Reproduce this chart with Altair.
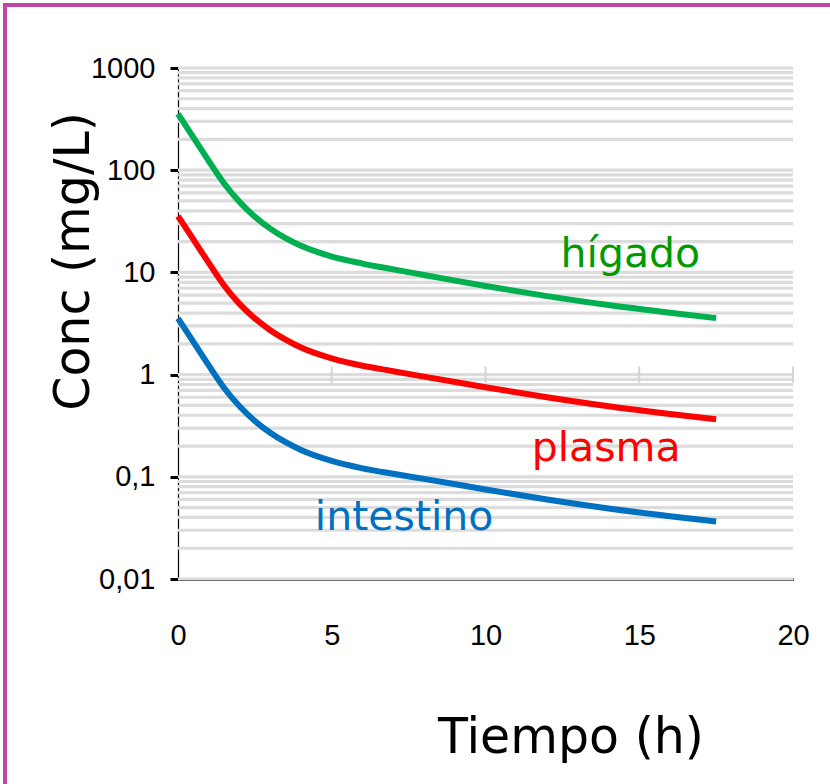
import altair as alt
import pandas as pd

# ---- data ----
time_h = [0, 0.5, 1, 1.5, 2, 2.5, 3, 3.5, 4, 5, 6, 7, 8, 10, 12, 14, 16, 17.5]
higado = [355, 209, 123, 74.1, 49.0, 35.1, 26.8, 21.6, 18.2, 14.3, 12.2, 10.7, 9.44, 7.35, 5.86, 4.79, 4.03, 3.57]
plasma = [35.5, 21.0, 12.4, 7.45, 4.92, 3.55, 2.72, 2.2, 1.84, 1.44, 1.22, 1.08, 0.955, 0.752, 0.60, 0.49, 0.412, 0.366]
intestino = [3.55, 2.09, 1.23, 0.74, 0.49, 0.352, 0.27, 0.218, 0.183, 0.143, 0.121, 0.107, 0.0955, 0.0752, 0.060, 0.049, 0.0412, 0.0366]

series_names = ["hígado", "plasma", "intestino"]
line_colors = ["#00B050", "#FF0000", "#0070C0"]
text_colors = ["#009A00", "#FF0000", "#0070C0"]
label_t = [12.44, 11.5, 4.45]
label_c = [11.2, 0.143, 0.0302]

y_ticks = [0.01, 0.1, 1, 10, 100, 1000]
y_tick_labels = ["0,01", "0,1", "1", "10", "100", "1000"]
x_ticks = [0, 5, 10, 15, 20]
grid_values = [m * 10 ** k for k in range(-2, 3) for m in range(1, 10)] + [1000]
cross_ticks_x = [5, 10, 15, 20]

# ---- tables ----
rows = []
for name, vals in zip(series_names, [higado, plasma, intestino]):
    for t, v in zip(time_h, vals):
        rows.append({"t": t, "c": v, "serie": name})
df = pd.DataFrame(rows)
df_lab = pd.DataFrame({"t": label_t, "c": label_c, "serie": series_names})
df_grid = pd.DataFrame({"g": grid_values})
df_cross = pd.DataFrame({"t": cross_ticks_x})

label_expr = " : ".join(
    f"datum.value == {v} ? '{l}'" for v, l in zip(y_ticks[:-1], y_tick_labels[:-1])
) + f" : '{y_tick_labels[-1]}'"

x_scale = alt.Scale(domain=[0, 20], nice=False)
y_scale = alt.Scale(type="log", domain=[0.01, 1000], nice=False)

TICK_FONT = "Liberation Sans Narrow, Liberation Sans, Arial, sans-serif"
TITLE_FONT = "DejaVu Sans, Verdana, sans-serif"

grid = alt.Chart(df_grid).mark_rule(color="#DCDCDC", strokeWidth=3.2).encode(
    y=alt.Y("g:Q", scale=y_scale)
)

cross = alt.Chart(df_cross).mark_rule(color="#D4D4D4", strokeWidth=2).encode(
    x=alt.X("t:Q", scale=x_scale),
    y=alt.datum(1.2),
    y2=alt.datum(0.83),
)

lines = alt.Chart(df).mark_line(strokeWidth=6, interpolate="monotone", clip=False).encode(
    x=alt.X(
        "t:Q",
        scale=x_scale,
        axis=alt.Axis(
            values=x_ticks,
            format="d",
            grid=False,
            ticks=False,
            tickSize=0,
            domainColor="black",
            domainWidth=3,
            labelFont=TICK_FONT,
            labelFontSize=29,
            labelColor="black",
            labelPadding=56,
            labelBaseline="middle",
            labelFlush=False,
            title="Tiempo (h)",
            titleFont=TITLE_FONT,
            titleFontSize=49,
            titleFontWeight="normal",
            titleColor="black",
            titleX=392.5,
            titleY=173,
            titleAlign="center",
            titleBaseline="alphabetic",
        ),
    ),
    y=alt.Y(
        "c:Q",
        scale=y_scale,
        axis=alt.Axis(
            values=y_ticks,
            labelExpr=label_expr,
            grid=False,
            ticks=True,
            tickSize=8,
            tickWidth=3,
            tickColor="black",
            domainColor="black",
            domainWidth=1.2,
            labelFont=TICK_FONT,
            labelFontSize=29,
            labelColor="black",
            labelPadding=15,
            labelAlign="right",
            labelBaseline="middle",
            labelFlush=False,
            title="Conc (mg/L)",
            titleFont=TITLE_FONT,
            titleFontSize=49,
            titleFontWeight="normal",
            titleColor="black",
            titleAngle=270,
            titleX=-90,
            titleY=193,
            titleAlign="center",
            titleBaseline="alphabetic",
        ),
    ),
    color=alt.Color(
        "serie:N",
        scale=alt.Scale(domain=series_names, range=line_colors),
        legend=None,
    ),
    detail="serie:N",
)

labels = alt.Chart(df_lab).mark_text(
    font=TITLE_FONT, fontSize=41, align="left", baseline="alphabetic"
).encode(
    x=alt.X("t:Q", scale=x_scale),
    y=alt.Y("c:Q", scale=y_scale),
    text="serie:N",
    color=alt.Color(
        "serie:N",
        scale=alt.Scale(domain=series_names, range=text_colors),
        legend=None,
    ),
)

border = alt.Chart(df_lab).mark_rect(
    fillOpacity=0, stroke="#C044A4", strokeWidth=4
).encode(
    x=alt.value(-173),
    x2=alt.value(690),
    y=alt.value(-63),
    y2=alt.value(760),
)

chart = (
    alt.layer(grid, cross, lines, labels, border)
    .resolve_scale(color="independent")
    .properties(
        width=615,
        height=511,
        padding={"left": 178, "top": 68, "right": 37, "bottom": 205},
        autosize=alt.AutoSizeParams(type="none"),
        background="white",
    )
    .configure_view(stroke=None)
)

chart.save("out.html", embed_options={"renderer": "svg", "actions": False})
